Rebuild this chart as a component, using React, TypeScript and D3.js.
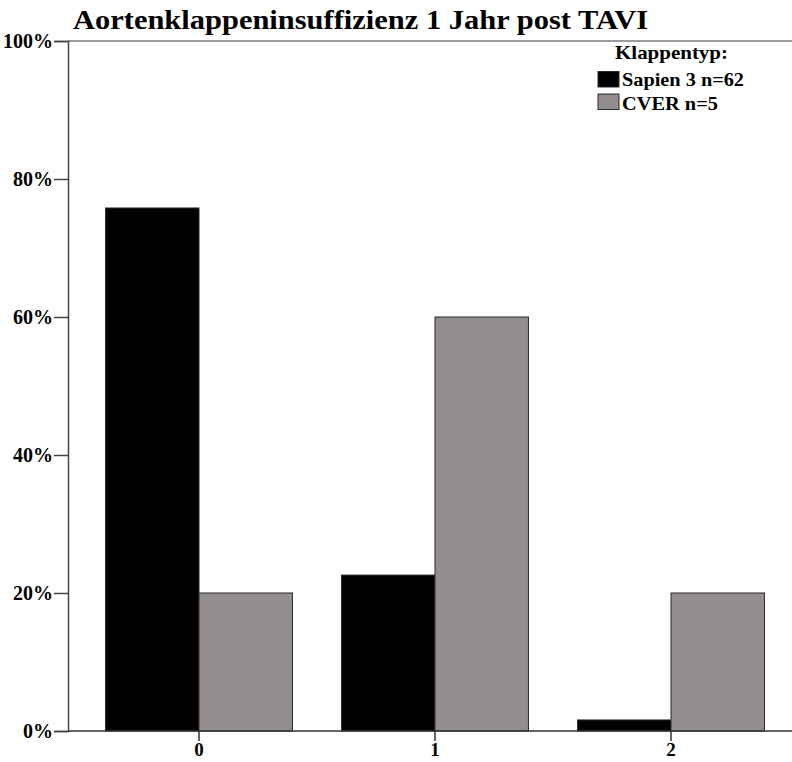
import { useEffect, useRef } from "react";
import * as d3 from "d3";

const categories = ["0", "1", "2"];
const seriesNames = ["Sapien 3 n=62", "CVER n=5"];
const sapien3 = [75.8, 22.6, 1.6];
const cver = [20, 60, 20];
const yTicks = [0, 20, 40, 60, 80, 100];
const colors = ["#000000", "#948f8e"];

const W = 792;
const H = 762;
const font = "'Liberation Serif', 'Times New Roman', serif";

export default function App() {
  const ref = useRef<SVGSVGElement>(null);

  useEffect(() => {
    if (!ref.current) return;
    const svg = d3.select(ref.current);
    svg.selectAll("*").remove();

    const left = 68;
    const top = 41;
    const bottom = 731;

    const y = d3.scaleLinear().domain([0, 100]).range([bottom, top]);
    const x = d3
      .scaleBand()
      .domain(categories)
      .range([81, 789])
      .paddingInner(0.208)
      .paddingOuter(0.104);
    const inner = d3.scaleBand().domain(seriesNames).range([0, x.bandwidth()]);

    // title
    svg
      .append("text")
      .attr("x", 73)
      .attr("y", 29)
      .attr("textLength", 575)
      .attr("lengthAdjust", "spacingAndGlyphs")
      .style("font-family", font)
      .style("font-weight", "700")
      .style("font-size", "27px")
      .text("Aortenklappeninsuffizienz 1 Jahr post TAVI");

    // top frame line
    svg
      .append("line")
      .attr("x1", left)
      .attr("x2", W)
      .attr("y1", top)
      .attr("y2", top)
      .attr("stroke", "#7a7a7a")
      .attr("stroke-width", 1.5);

    // bars
    const series = [sapien3, cver];
    series.forEach((vals, si) => {
      svg
        .append("g")
        .selectAll("rect")
        .data(vals)
        .enter()
        .append("rect")
        .attr("x", (_d, i) => x(categories[i])! + inner(seriesNames[si])!)
        .attr("y", (d) => y(d))
        .attr("width", inner.bandwidth())
        .attr("height", (d) => bottom - y(d))
        .attr("fill", colors[si])
        .attr("stroke", "#2a2a2a")
        .attr("stroke-width", 1);
    });

    // y axis
    const yAxis = svg
      .append("g")
      .attr("transform", `translate(${left},0)`)
      .call(
        d3
          .axisLeft(y)
          .tickValues(yTicks)
          .tickSize(14)
          .tickPadding(1)
          .tickFormat((d) => `${d}%`)
      );
    yAxis.select(".domain").attr("stroke", "#444").attr("stroke-width", 1.5);
    yAxis.selectAll(".tick line").attr("stroke", "#444").attr("stroke-width", 1.5);
    yAxis
      .selectAll("text")
      .style("font-family", font)
      .style("font-weight", "700")
      .style("font-size", "20px")
      .attr("fill", "#000");

    // x axis
    const xAxis = svg
      .append("g")
      .attr("transform", `translate(0,${bottom})`)
      .call(d3.axisBottom(x).tickSize(10).tickSizeOuter(0).tickPadding(2));
    xAxis.select(".domain").attr("d", `M${left},0H${W}`).attr("stroke", "#333").attr("stroke-width", 1.5);
    xAxis.selectAll(".tick line").attr("stroke", "#333").attr("stroke-width", 1.5);
    xAxis
      .selectAll("text")
      .style("font-family", font)
      .style("font-weight", "700")
      .style("font-size", "19px")
      .attr("fill", "#000");

    // legend
    const lg = svg.append("g");
    lg.append("text")
      .attr("x", 615)
      .attr("y", 59)
      .attr("textLength", 113)
      .attr("lengthAdjust", "spacingAndGlyphs")
      .style("font-family", font)
      .style("font-weight", "700")
      .style("font-size", "19px")
      .text("Klappentyp:");
    const legendWidths = [122, 96];
    seriesNames.forEach((name, i) => {
      lg.append("rect")
        .attr("x", 598)
        .attr("y", 71.5 + i * 22.5)
        .attr("width", 21)
        .attr("height", 15.5)
        .attr("fill", colors[i])
        .attr("stroke", "#2a2a2a")
        .attr("stroke-width", 1);
      lg.append("text")
        .attr("x", 622)
        .attr("y", 86 + i * 23.5)
        .attr("textLength", legendWidths[i])
        .attr("lengthAdjust", "spacingAndGlyphs")
        .style("font-family", font)
        .style("font-weight", "700")
        .style("font-size", "19px")
        .text(name);
    });
  }, []);

  return (
    <svg
      ref={ref}
      width={W}
      height={H}
      style={{ position: "absolute", left: 0, top: 0, background: "#fff" }}
    />
  );
}
